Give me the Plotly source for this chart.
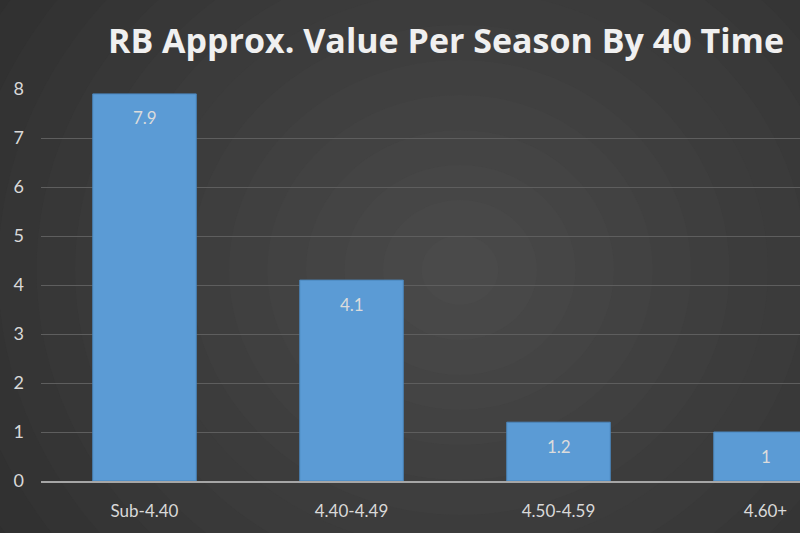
import plotly.graph_objects as go

categories = ["Sub-4.40", "4.40-4.49", "4.50-4.59", "4.60+"]
values = [7.9, 4.1, 1.2, 1]
labels = ["7.9", "4.1", "1.2", "1"]
y_ticks = [0, 1, 2, 3, 4, 5, 6, 7, 8]

xs = list(range(len(categories)))

W, H = 800, 533
L, R, T, B = 41, 0, 89, 52
pw, ph = W - L - R, H - T - B


def px_to_paper(px, py):
    return (px - L) / pw, (H - B - py) / ph


fig = go.Figure()

# soft radial background (dark edges, lighter middle) built from stacked ellipses
rings = 16
cx, cy = 460, 270
for i in range(rings):
    r = 560 * (1 - i / rings)
    g = int(0x2c + (0x4a - 0x2c) * (i + 1) / rings)
    x0, y0 = px_to_paper(cx - r * 1.1, cy + r)
    x1, y1 = px_to_paper(cx + r * 1.1, cy - r)
    fig.add_shape(type="circle", xref="paper", yref="paper",
                  x0=x0, y0=y0, x1=x1, y1=y1, layer="below",
                  fillcolor=f"rgb({g},{g},{g})", line_width=0)

fig.add_trace(go.Bar(
    x=xs,
    y=values,
    width=0.5,
    marker=dict(color="#5b9bd5", line=dict(color="#4a86bd", width=1)),
    hoverinfo="skip",
))

# value labels sit a bit below the top of each bar, like Excel does
for x, v, t in zip(xs, values, labels):
    fig.add_annotation(
        x=x, y=v, text=t, showarrow=False, yshift=-24,
        font=dict(family="Lato", size=17, color="#dcdcdc"),
    )

fig.update_layout(
    width=W, height=H,
    margin=dict(l=L, r=R, t=T, b=B),
    paper_bgcolor="#2c2c2c",
    plot_bgcolor="rgba(0,0,0,0)",
    showlegend=False,
    title=dict(
        text="<b>RB Approx. Value Per Season By 40 Time</b>",
        x=446 / W, xanchor="center", y=1 - 41 / H, yanchor="middle",
        font=dict(family="Open Sans", size=34, color="#f0f0f0"),
    ),
    xaxis=dict(
        range=[-0.5, (W - L) / 207 - 0.5],
        tickvals=xs,
        ticktext=categories,
        showgrid=False, zeroline=False,
        showline=True, linecolor="#a6a6a6", linewidth=1.5,
        ticks="", ticklabelstandoff=14,
        tickfont=dict(family="Lato", size=17, color="#d9d9d9"),
    ),
    yaxis=dict(
        range=[0, 8],
        tickvals=y_ticks,
        showgrid=True, gridcolor="#5e5e5e", gridwidth=1,
        zeroline=False, showline=False, ticks="",
        ticklabelstandoff=16,
        tickfont=dict(family="Lato", size=18, color="#d9d9d9"),
    ),
    bargap=0.5,
)

fig.write_html("out.html", config={"displayModeBar": False},
               post_script="document.body.style.margin='0';")
